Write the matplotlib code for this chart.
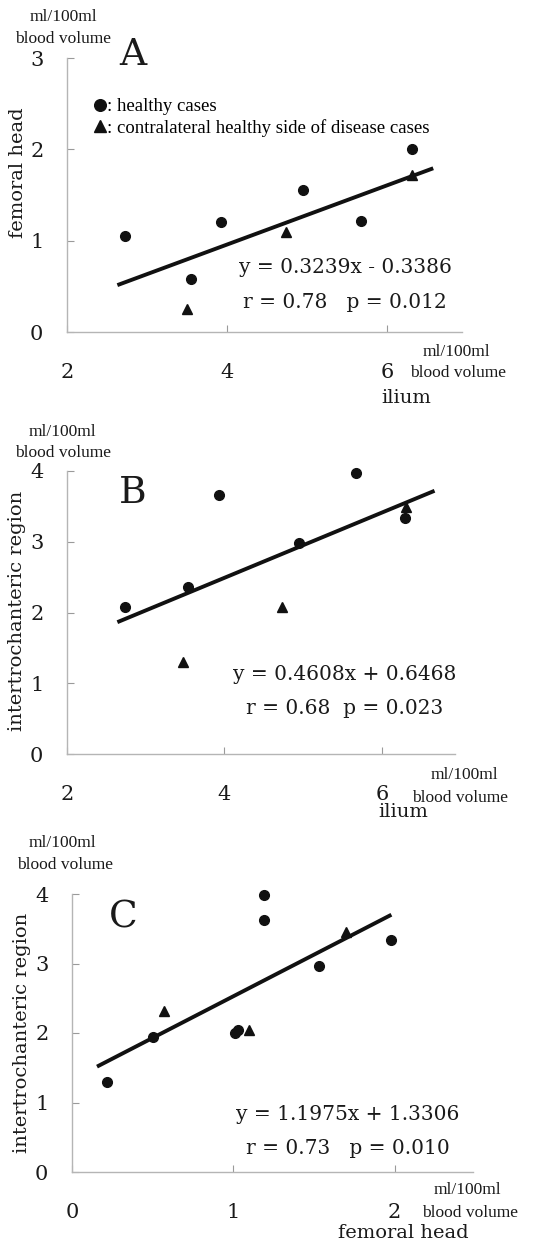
import matplotlib
matplotlib.use('Agg')
import matplotlib.pyplot as plt
import numpy as np

W, H = 539, 1247

# panel A : ilium vs femoral head
a_ilium_healthy = [2.73, 3.55, 3.93, 4.95, 5.68, 6.31]
a_femoral_healthy = [1.05, 0.58, 1.20, 1.56, 1.22, 2.00]
a_ilium_contra = [3.50, 4.74, 6.32]
a_femoral_contra = [0.25, 1.10, 1.72]
a_fit = (0.3239, -0.3386)
a_fit_range = [2.63, 6.58]

# panel B : ilium vs intertrochanteric region
b_ilium_healthy = [2.74, 3.54, 3.93, 4.95, 5.67, 6.29]
b_inter_healthy = [2.08, 2.36, 3.66, 2.98, 3.97, 3.34]
b_ilium_contra = [3.47, 4.73, 6.31]
b_inter_contra = [1.30, 2.08, 3.49]
b_fit = (0.4608, 0.6468)
b_fit_range = [2.64, 6.67]

# panel C : femoral head vs intertrochanteric region
c_femoral_healthy = [0.22, 0.50, 1.01, 1.03, 1.19, 1.19, 1.53, 1.98]
c_inter_healthy = [1.30, 1.94, 2.00, 2.05, 3.98, 3.63, 2.97, 3.34]
c_femoral_contra = [0.57, 1.10, 1.70]
c_inter_contra = [2.32, 2.05, 3.46]
c_fit = (1.1975, 1.3306)
c_fit_range = [0.155, 1.98]

TXT = '#1a1a1a'
SERIF = 'DejaVu Serif'
TIMES = 'Liberation Serif'

fig = plt.figure(figsize=(W/100, H/100), dpi=100)

def ftext(x, y, s, **kw):
  # place text by pixel position on the page
  kw.setdefault('color', TXT)
  fig.text(x/W, 1-y/H, s, **kw)

def panel(left, top, right, bottom, xlim, ylim, xticks, yticks,
          xh, yh, xc, yc, fit, fit_range):
  ax = fig.add_axes([left/W, 1-bottom/H, (right-left)/W, (bottom-top)/H])
  ax.set_xlim(xlim)
  ax.set_ylim(ylim)
  ax.set_xticks(xticks)
  ax.set_yticks(yticks)
  for s in ['top', 'right']:
    ax.spines[s].set_visible(False)
  for s in ['left', 'bottom']:
    ax.spines[s].set_color('#b5b5b5')
    ax.spines[s].set_linewidth(1.0)
  ax.tick_params(axis='both', direction='in', length=5, width=0.8,
                 color='#9a9a9a', labelsize=15, labelcolor=TXT)
  ax.tick_params(axis='x', pad=22)
  ax.tick_params(axis='y', pad=17)
  for lab in ax.get_xticklabels() + ax.get_yticklabels():
    lab.set_family(SERIF)
  ax.plot(xh, yh, 'o', color='#111111', markersize=7, zorder=3,
          clip_on=False, label=': healthy cases')
  ax.plot(xc, yc, '^', color='#111111', markersize=7.5, zorder=3,
          clip_on=False, label=': contralateral healthy side of disease cases')
  fx = np.array(fit_range)
  ax.plot(fx, fit[0]*fx + fit[1], color='#111111', lw=2.8,
          solid_capstyle='butt', zorder=2, clip_on=False)
  ax.patch.set_alpha(0)
  return ax

# ---- A
axA = panel(67, 58, 462, 332, (2, 6.94), (0, 3), [2, 4, 6], [0, 1, 2, 3],
            a_ilium_healthy, a_femoral_healthy, a_ilium_contra, a_femoral_contra,
            a_fit, a_fit_range)
axA.legend(loc='upper left', bbox_to_anchor=(94/W, 1-98/H),
           bbox_transform=fig.transFigure, frameon=False,
           prop={'family': TIMES, 'size': 13.5}, handlelength=0.6,
           handletextpad=0.1, labelspacing=0.2, borderpad=0, borderaxespad=0,
           markerscale=1.2)
ftext(133, 55, 'A', family=SERIF, size=27, ha='center', va='center')
ftext(345, 267, 'y = 0.3239x - 0.3386', family=SERIF, size=14.5, ha='center', va='center')
ftext(345, 302, 'r = 0.78   p = 0.012', family=SERIF, size=14.5, ha='center', va='center')
ftext(63, 17, 'ml/100ml', family=TIMES, size=12.5, ha='center', va='center')
ftext(63, 39, 'blood volume', family=TIMES, size=12.5, ha='center', va='center')
ftext(18, 173, 'femoral head', family=SERIF, size=14, rotation=90, ha='center', va='center')
ftext(456, 352, 'ml/100ml', family=TIMES, size=12.5, ha='center', va='center')
ftext(458, 373, 'blood volume', family=TIMES, size=12.5, ha='center', va='center')
ftext(406, 398, 'ilium', family=SERIF, size=14, ha='center', va='center')

# ---- B
axB = panel(67, 471, 455, 754, (2, 6.93), (0, 4), [2, 4, 6], [0, 1, 2, 3, 4],
            b_ilium_healthy, b_inter_healthy, b_ilium_contra, b_inter_contra,
            b_fit, b_fit_range)
ftext(133, 493, 'B', family=SERIF, size=27, ha='center', va='center')
ftext(345, 675, 'y = 0.4608x + 0.6468', family=SERIF, size=14.5, ha='center', va='center')
ftext(345, 708, 'r = 0.68  p = 0.023', family=SERIF, size=14.5, ha='center', va='center')
ftext(62, 432, 'ml/100ml', family=TIMES, size=12.5, ha='center', va='center')
ftext(63, 453, 'blood volume', family=TIMES, size=12.5, ha='center', va='center')
ftext(17, 611, 'intertrochanteric region', family=SERIF, size=14, rotation=90, ha='center', va='center')
ftext(464, 775, 'ml/100ml', family=TIMES, size=12.5, ha='center', va='center')
ftext(460, 798, 'blood volume', family=TIMES, size=12.5, ha='center', va='center')
ftext(403, 812, 'ilium', family=SERIF, size=14, ha='center', va='center')

# ---- C
axC = panel(72, 894, 473, 1172, (0, 2.486), (0, 4), [0, 1, 2], [0, 1, 2, 3, 4],
            c_femoral_healthy, c_inter_healthy, c_femoral_contra, c_inter_contra,
            c_fit, c_fit_range)
ftext(123, 918, 'C', family=SERIF, size=27, ha='center', va='center')
ftext(348, 1115, 'y = 1.1975x + 1.3306', family=SERIF, size=14.5, ha='center', va='center')
ftext(348, 1148, 'r = 0.73   p = 0.010', family=SERIF, size=14.5, ha='center', va='center')
ftext(62, 843, 'ml/100ml', family=TIMES, size=12.5, ha='center', va='center')
ftext(65, 865, 'blood volume', family=TIMES, size=12.5, ha='center', va='center')
ftext(22, 1033, 'intertrochanteric region', family=SERIF, size=14, rotation=90, ha='center', va='center')
ftext(467, 1190, 'ml/100ml', family=TIMES, size=12.5, ha='center', va='center')
ftext(470, 1213, 'blood volume', family=TIMES, size=12.5, ha='center', va='center')
ftext(403, 1233, 'femoral head', family=SERIF, size=14, ha='center', va='center')

fig.savefig('out.png', dpi=100, facecolor='white')
